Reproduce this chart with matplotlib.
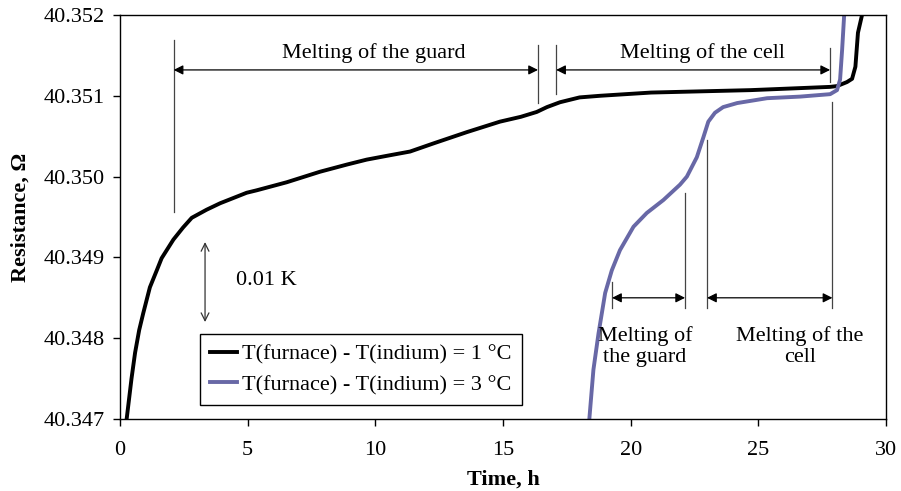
import numpy as np
import matplotlib
matplotlib.use('Agg')
import matplotlib.pyplot as plt

plt.rcParams['font.family'] = ['Liberation Serif', 'DejaVu Serif']

# Time (h) / resistance (ohm)
t_1C = [0.26, 0.45, 0.59, 0.75, 0.91, 1.17, 1.44, 1.63, 2.09, 2.47, 2.81, 3.39, 3.92,
        4.96, 5.35, 6.53, 7.83, 8.9, 9.66, 10.5, 11.36, 12.27, 13.58, 14.88, 15.7,
        16.32, 16.72, 17.23, 18.0, 18.8, 20.8, 24.7, 27.8, 28.08, 28.47, 28.67, 28.8,
        28.9, 29.06]
r_1C = [40.34700, 40.34750, 40.34782, 40.34810, 40.34831, 40.34863, 40.34884, 40.34899,
        40.34922, 40.34937, 40.34949, 40.34959, 40.34967, 40.34980, 40.34983, 40.34993,
        40.35006, 40.35015, 40.35021, 40.35026, 40.35031, 40.35041, 40.35055, 40.35068,
        40.35074, 40.35080, 40.35086, 40.35092, 40.35098, 40.35100, 40.35104, 40.35107,
        40.35111, 40.35112, 40.35117, 40.35121, 40.35136, 40.35178, 40.35200]

t_3C = [18.38, 18.54, 18.74, 19.0, 19.26, 19.58, 20.11, 20.63, 21.28, 21.93, 22.2, 22.59,
        22.85, 23.04, 23.3, 23.62, 24.17, 25.34, 26.64, 27.81, 28.08, 28.2, 28.28, 28.36]
r_3C = [40.34700, 40.34761, 40.34806, 40.34856, 40.34884, 40.34909, 40.34938, 40.34955,
        40.34971, 40.34990, 40.35000, 40.35024, 40.35049, 40.35068, 40.35079, 40.35086,
        40.35091, 40.35097, 40.35099, 40.35102, 40.35107, 40.35120, 40.35157, 40.35200]

labels = ['T(furnace) - T(indium) = 1 °C', 'T(furnace) - T(indium) = 3 °C']
colors = ['black', '#6868A6']

fig = plt.figure(figsize=(9.01, 4.91), dpi=100)
ax = fig.add_axes([0.1332, 0.1466, 0.9834 - 0.1332, 0.9695 - 0.1466])

ax.plot(t_1C, r_1C, color=colors[0], lw=2.8, label=labels[0], solid_joinstyle='round')
ax.plot(t_3C, r_3C, color=colors[1], lw=2.8, label=labels[1], solid_joinstyle='round')

ax.set_xlim(0, 30)
ax.set_ylim(40.347, 40.352)
ax.set_xticks([0, 5, 10, 15, 20, 25, 30])
ax.set_yticks([40.347, 40.348, 40.349, 40.350, 40.351, 40.352])
ax.set_yticklabels(['%.3f' % v for v in ax.get_yticks()])
ax.tick_params(axis='both', labelsize=16, direction='out', length=5, width=1)
ax.tick_params(axis='x', pad=11)
ax.tick_params(axis='y', pad=6)
for s in ax.spines.values():
    s.set_linewidth(1)

ax.set_xlabel('Time, h', fontsize=16, fontweight='bold', va='top')
ax.xaxis.set_label_coords(0.5, -0.125)
ax.set_ylabel('Resistance, Ω', fontsize=16, fontweight='bold')
ax.yaxis.set_label_coords(-0.117, 0.5)

# annotation lines
vcol = '#444444'
def vline(x, y0, y1):
    ax.plot([x, x], [y0, y1], color=vcol, lw=0.9)

def darrow(x0, x1, y):
    ax.annotate('', xy=(x1, y), xytext=(x0, y),
                arrowprops=dict(arrowstyle='<|-|>', color='black', lw=0.9,
                                mutation_scale=14, shrinkA=0, shrinkB=0))

# top: black curve
vline(2.1, 40.34956, 40.35169)
vline(16.37, 40.35091, 40.35163)
vline(17.08, 40.35102, 40.35163)
vline(27.81, 40.35117, 40.35159)
darrow(2.1, 16.37, 40.35132)
darrow(17.08, 27.81, 40.35132)
ax.text(9.95, 40.35153, 'Melting of the guard', fontsize=16, ha='center', va='center')
ax.text(22.8, 40.35153, 'Melting of the cell', fontsize=16, ha='center', va='center')

# bottom: blue curve
vline(19.27, 40.34837, 40.34870)
vline(22.13, 40.34837, 40.34980)
vline(22.99, 40.34837, 40.35045)
vline(27.9, 40.34837, 40.35092)
darrow(19.27, 22.13, 40.3485)
darrow(22.99, 27.9, 40.3485)
ax.text(20.56, 40.34790, 'Melting of\nthe guard', fontsize=16, ha='center', va='center',
        linespacing=1.15)
ax.text(26.63, 40.34790, 'Melting of the\ncell', fontsize=16, ha='center', va='center',
        linespacing=1.15)

# 0.01 K scale
ax.annotate('', xy=(3.33, 40.34820), xytext=(3.33, 40.34919),
            arrowprops=dict(arrowstyle='<->', color='#333333', lw=0.9,
                            mutation_scale=14, shrinkA=0, shrinkB=0))
ax.text(4.54, 40.34872, '0.01 K', fontsize=16, ha='left', va='center')

leg = ax.legend(loc='lower left', bbox_to_anchor=(0.1044, 0.0347), borderaxespad=0,
                fontsize=16, fancybox=False, edgecolor='black', framealpha=1,
                handlelength=1.2, handletextpad=0.25, borderpad=0.45, labelspacing=0.45)
leg.get_frame().set_linewidth(1)

fig.savefig('out.png', dpi=100)
